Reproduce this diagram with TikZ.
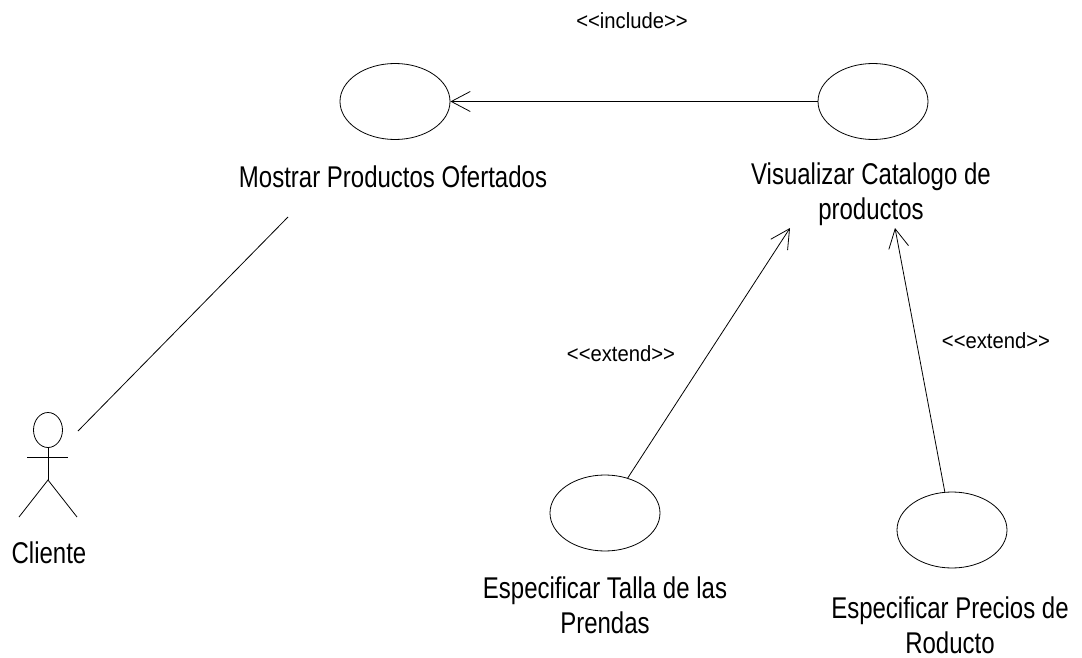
\documentclass[tikz,border=0pt]{standalone}
\usepackage{fontspec}
\setmainfont{Liberation Sans}
\newfontfamily\bigf[FakeStretch=0.8]{Liberation Sans}
\newfontfamily\smallf[FakeStretch=0.92]{Liberation Sans}
\usetikzlibrary{arrows.meta,shapes.geometric}
\begin{document}
\begin{tikzpicture}[x=1pt,y=-1pt,line width=0.8pt,
  uc/.style={ellipse,draw,minimum width=110pt,minimum height=76pt,inner sep=0pt},
  lbl/.style={font={\bigf\fontsize{30}{35}\selectfont},align=center,inner sep=0pt,anchor=base},
  stereo/.style={font={\smallf\fontsize{22}{26}\selectfont},inner sep=0pt,anchor=base},
  dep/.style={-{Straight Barb[length=19pt,width=20pt,line width=0.8pt]}},
  assoc/.style={line width=0.8pt}]
\useasboundingbox (0,0) rectangle (1082,658);
% use cases
\node[uc] (most) at (395,101.5) {};
\node[uc] (vis) at (873,101.5) {};
\node[uc] (talla) at (605,513) {};
\node[uc] (precios) at (952,530) {};
% labels (base anchor = baseline of the last line)
\node[lbl] (mostl) at (393,187) {Mostrar Productos Ofertados};
\node[lbl] (visl) at (871,219) {Visualizar Catalogo de\\productos};
\node[lbl] (tallal) at (605,633) {Especificar Talla de las\\Prendas};
\node[lbl] (preciosl) at (950,653) {Especificar Precios de\\Roducto};
% actor
\coordinate (cliente) at (48,430);
\draw (cliente) ellipse [x radius=14.5pt, y radius=17.5pt];
\draw (27,457) -- (68,457);
\draw (48,448) -- (48,480);
\draw (19,517) -- (48,480) -- (77,517);
\node[lbl] (clientel) at (49,563) {Cliente};
% connector end points
\coordinate (actorA) at (78,431);
\coordinate (mostA) at (288,217);
\coordinate (visT1) at (790,228);
\coordinate (visT2) at (895,228);
% connectors
\draw[assoc] (actorA) -- (mostA);
\draw[dep] (vis) -- (most);
\draw[dep] (talla) -- (visT1);
\draw[dep] (precios) -- (visT2);
% stereotypes
\node[stereo] (inc) at (632,29) {<<include>>};
\node[stereo] (ext1) at (621,361) {<<extend>>};
\node[stereo] (ext2) at (996,348) {<<extend>>};
\end{tikzpicture}
\end{document}
